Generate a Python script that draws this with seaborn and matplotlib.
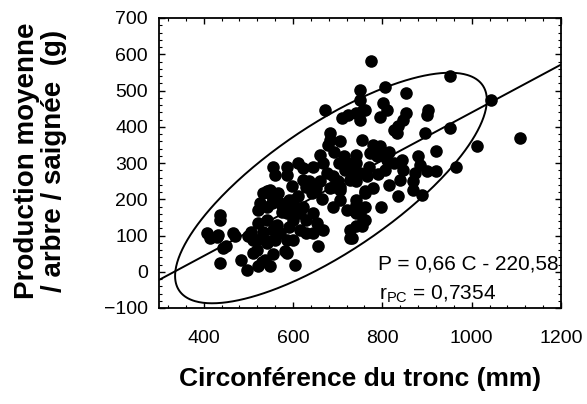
import numpy as np
import pandas as pd
import matplotlib
matplotlib.use("Agg")
import matplotlib.pyplot as plt
from matplotlib.ticker import MultipleLocator
import seaborn as sns

# ---- data ----
circ = [407, 414, 429, 437, 437, 437, 433, 444, 451, 466, 470,
        483, 496, 511, 522, 537, 548, 530,
        541, 527, 511, 522, 541, 545, 507,
        541, 526, 533, 548, 563, 571, 552, 541,
        556, 586, 560, 586, 567, 567, 586, 586, 604,
        590, 593, 578, 600, 597,
        623, 645, 667,
        623, 630, 642, 660, 675, 690, 705, 734, 742,
        590, 600, 608, 552,
        586, 601, 616, 630, 645, 653, 668, 645, 630, 616, 601, 560, 571, 556,
        657, 582, 727,
        690, 705, 720, 742, 750, 757, 742, 761,
        727, 742, 734, 690, 705,
        775, 750, 750, 672, 709, 723, 750, 761, 683, 683, 678, 754, 660, 742, 742,
        951, 806, 854, 802, 810, 795, 757, 742, 854, 847, 836, 825, 832, 903, 899,
        895, 951, 1044, 1108, 1011, 966, 921,
        780, 795, 802, 810, 787, 772, 765, 750,
        806, 825, 843, 847, 840, 880, 884, 873, 869, 899, 921, 869, 888, 836, 798,
        761, 742, 735, 742, 761, 754, 727, 731,
        520, 532, 555, 565, 575, 612, 622, 636, 652, 666, 682, 700, 716, 724,
        702, 714, 692, 706, 770, 790, 815, 815, 780, 762, 500, 522, 612]
prod = [107, 93, 97, 157, 143, 25, 102, 65, 70, 107, 100,
        33, 5, 52, 15, 33, 15, 28,
        79, 90, 88, 135, 143, 84, 111,
        180, 190, 217, 226, 208, 190, 208, 222,
        290, 290, 268, 268, 217, 107, 88, 52, 19,
        124, 162, 180, 199, 236,
        287, 290, 300,
        254, 235, 217, 249, 272, 263, 235, 281, 249,
        199, 190, 171, 190,
        162, 143, 162, 143, 162, 134, 116, 107, 107, 116, 88, 88, 107, 116,
        70, 56, 93,
        180, 199, 171, 185, 162, 143, 125, 217,
        254, 272, 290, 235, 226,
        582, 502, 474, 447, 424, 433, 419, 447, 383, 364, 350, 364, 323, 323, 300,
        539, 509, 493, 465, 447, 428, 447, 438, 438, 419, 401, 392, 383, 447, 433,
        383, 396, 474, 369, 346, 290, 332,
        350, 346, 327, 309, 318, 327, 263, 272,
        281, 300, 309, 281, 254, 318, 295, 272, 249, 277, 277, 226, 212, 208, 180,
        222, 199, 171, 162, 143, 125, 116, 93,
        60, 110, 50, 130, 165, 210, 180, 250, 230, 200, 230, 250, 280, 300,
        300, 320, 330, 360, 290, 270, 330, 240, 230, 180, 100, 170, 300]

slope = 0.66
intercept = -220.58
ell_center = (685.0, 231.0)
ell_cov = [[121801.0, 84588.0], [84588.0, 101124.0]]

xticks = [400, 600, 800, 1000, 1200]
yticks = [-100, 0, 100, 200, 300, 400, 500, 600, 700]
eq_text = "P = 0,66 C - 220,58"
r_text = r"r$_{\mathrm{PC}}$ = 0,7354"
xlabel = "Circonférence du tronc (mm)"
ylabel = "Production moyenne\n/ arbre / saignée  (g)"

df = pd.DataFrame({"C": circ, "P": prod})

sns.set_theme(style="white")
plt.rcParams['font.family'] = ['Liberation Sans', 'DejaVu Sans']
plt.rcParams['mathtext.fontset'] = 'custom'
plt.rcParams['mathtext.rm'] = 'Liberation Sans'

fig = plt.figure(figsize=(5.87, 4.04), dpi=100)
ax = fig.add_axes([159/587, 1-308/404, 402/587, 290/404])

sns.scatterplot(data=df, x="C", y="P", ax=ax, color="black", s=82,
                edgecolor="black", linewidth=0, zorder=3)

# regression line
xl = np.array([300, 1200])
sns.lineplot(x=xl, y=slope*xl + intercept, ax=ax, color="black", lw=1.4, zorder=2)

# ellipse
L = np.linalg.cholesky(np.array(ell_cov))
t = np.linspace(0, 2*np.pi, 400)
pts = L @ np.vstack([np.cos(t), np.sin(t)])
ax.plot(pts[0] + ell_center[0], pts[1] + ell_center[1], color="black", lw=1.4, zorder=2)

ax.set_xlim(300, 1200)
ax.set_ylim(-100, 700)
ax.set_xticks(xticks)
ax.set_yticks(yticks)
ax.xaxis.set_minor_locator(MultipleLocator(40))
ax.yaxis.set_minor_locator(MultipleLocator(20))
ax.tick_params(which="both", direction="in", bottom=True, left=True,
               top=True, right=True, color="black")
ax.tick_params(which="major", length=4, width=1)
ax.tick_params(which="minor", length=2.2, width=0.8)
ax.tick_params(axis="x", which="major", pad=16, labelsize=14, labelcolor="black")
ax.tick_params(axis="y", which="major", pad=8, labelsize=14, labelcolor="black")
for sp in ax.spines.values():
    sp.set_color("black")
    sp.set_linewidth(1.3)

ax.set_xlabel(xlabel, fontsize=19, fontweight="bold", labelpad=14, color="black")
ax.set_ylabel(ylabel, fontsize=20, fontweight="bold", color="black",
              va="center", ha="center", linespacing=1.05)
ax.yaxis.set_label_coords(-0.294, 0.507)

ax.text(1195, 20, eq_text, ha="right", va="center", fontsize=15, color="black")
ax.text(793, -63, r_text, ha="left", va="center", fontsize=15, color="black")

fig.savefig("out.png", dpi=100)
